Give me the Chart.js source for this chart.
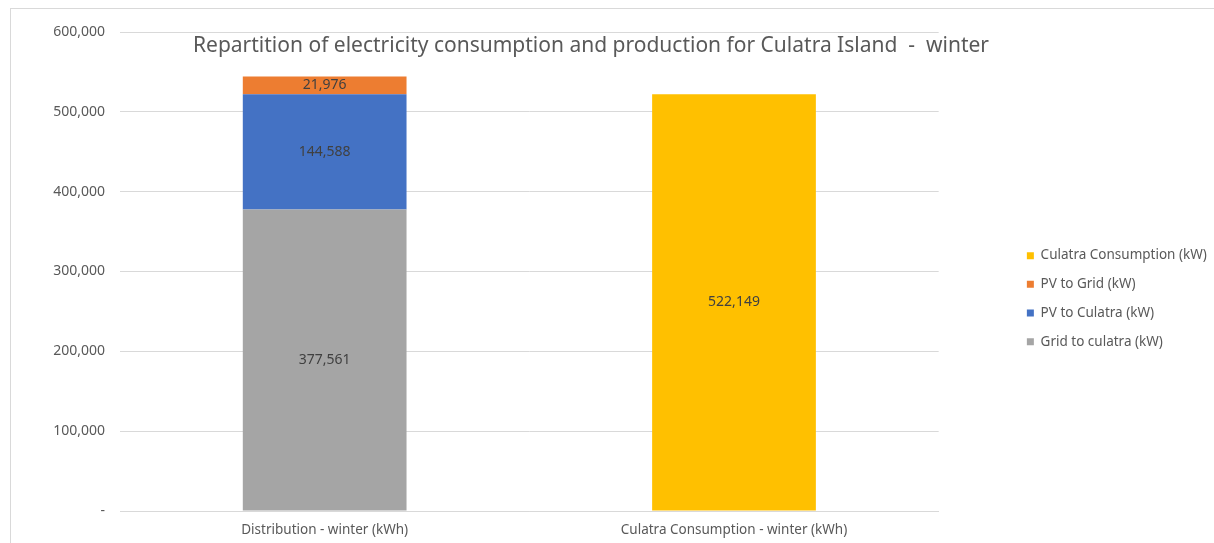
<!DOCTYPE html>
<html>
<head>
<meta charset="utf-8">
<script src="https://cdn.jsdelivr.net/npm/chart.js@4"></script>
<style>
    body { margin: 0; background: #fff; }
    #wrap { position: relative; width: 1214px; height: 543px; }
    #frame { position: absolute; left: 10px; top: 8px; right: -2px; bottom: -2px; border: 1px solid #d9d9d9; pointer-events: none; }
</style>
</head>
<body>
<div id="wrap">
    <canvas id="winter-chart" width="1214" height="543"></canvas>
    <div id="frame"></div>
</div>
<script>
const categories = ["Distribution - winter (kWh)", "Culatra Consumption - winter (kWh)"];
const gridToCulatra = [377561, null];
const pvToCulatra = [144588, null];
const pvToGrid = [21976, null];
const culatraConsumption = [null, 522149];
const yTicks = [0, 100000, 200000, 300000, 400000, 500000, 600000];

const chartTitle = "Repartition of electricity consumption and production for Culatra Island  -  winter";
const fontFamily = "'Noto Sans', 'Open Sans', sans-serif";
const canvas = document.querySelector("canvas#winter-chart");

// title sits inside the plot area, like the excel original
const titlePlugin = {
    id: "insideTitle",
    afterDraw(chart) {
        const ctx = chart.ctx;
        ctx.save();
        ctx.font = "21px " + fontFamily;
        ctx.fillStyle = "#595959";
        ctx.textAlign = "center";
        ctx.textBaseline = "middle";
        ctx.fillText(chartTitle, 591, 46);
        ctx.restore();
    },
};

// value labels in the middle of each segment
const valueLabels = {
    id: "valueLabels",
    afterDatasetsDraw(chart) {
        const ctx = chart.ctx;
        ctx.save();
        ctx.font = "14px " + fontFamily;
        ctx.fillStyle = "#404040";
        ctx.textAlign = "center";
        ctx.textBaseline = "middle";
        chart.data.datasets.forEach((ds, i) => {
            chart.getDatasetMeta(i).data.forEach((bar, j) => {
                const v = ds.data[j];
                if (v == null) return;
                const p = bar.getCenterPoint();
                ctx.fillText(v.toLocaleString("en-US"), p.x, p.y);
            });
        });
        ctx.restore();
    },
};

const dataset = {
    labels: categories,
    datasets: [
        { label: "Grid to culatra (kW)", data: gridToCulatra, backgroundColor: "#A5A5A5" },
        { label: "PV to Culatra (kW)", data: pvToCulatra, backgroundColor: "#4472C4" },
        { label: "PV to Grid (kW)", data: pvToGrid, backgroundColor: "#ED7D31" },
        { label: "Culatra Consumption (kW)", data: culatraConsumption, backgroundColor: "#FFC000" },
    ],
};

const config = {
    type: "bar",
    data: dataset,
    options: {
        responsive: false,
        animation: false,
        datasets: {
            bar: { categoryPercentage: 1, barPercentage: 0.4 },
        },
        layout: {
            padding: { left: 0, top: 32, right: 0, bottom: 0 },
        },
        scales: {
            x: {
                stacked: true,
                grid: { display: false, drawTicks: false },
                border: { display: true, color: "#d9d9d9" },
                ticks: { color: "#595959", font: { family: fontFamily, size: 13.5 }, padding: 11 },
                afterFit(s) { s.height = 32; },
            },
            y: {
                stacked: true,
                min: 0,
                max: 600000,
                afterBuildTicks(s) { s.ticks = yTicks.map((v) => ({ value: v })); },
                grid: { color: "#d9d9d9", drawTicks: false },
                border: { display: false },
                ticks: {
                    color: "#595959",
                    font: { family: fontFamily, size: 14 },
                    padding: 15,
                    callback: (v) => (v === 0 ? "-" : v.toLocaleString("en-US")),
                },
                afterFit(s) { s.width = 120; },
            },
            spacer: {
                position: "right",
                grid: { display: false, drawTicks: false },
                border: { display: false },
                ticks: { display: false },
                afterFit(s) { s.width = 73; },
            },
        },
        plugins: {
            tooltip: { enabled: false },
            legend: {
                position: "right",
                reverse: true,
                title: { display: true, text: "", padding: 4 },
                labels: {
                    color: "#595959",
                    font: { family: fontFamily, size: 13.5 },
                    boxWidth: 7,
                    boxHeight: 7,
                    padding: 15.2,
                },
            },
        },
    },
    plugins: [titlePlugin, valueLabels],
};

new Chart(canvas, config);
</script>
</body>
</html>
